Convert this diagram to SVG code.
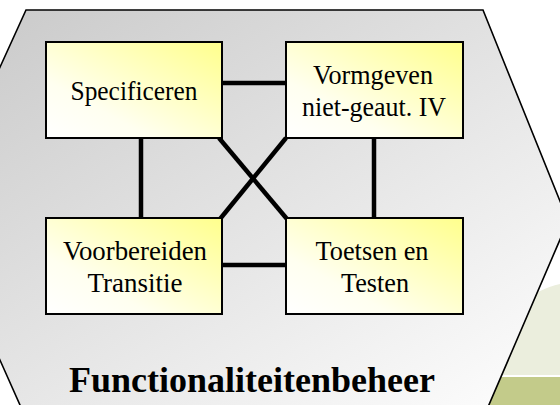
<svg xmlns="http://www.w3.org/2000/svg" width="560" height="405" viewBox="0 0 560 405">
<defs>
<linearGradient id="hexg" x1="0" y1="0" x2="1" y2="1">
<stop offset="0" stop-color="#c8c8c8"/>
<stop offset="1" stop-color="#ffffff"/>
</linearGradient>
<linearGradient id="boxg" x1="0" y1="1" x2="1" y2="0">
<stop offset="0" stop-color="#ffffff"/>
<stop offset="0.3" stop-color="#fffff0"/>
<stop offset="1" stop-color="#ffff8c"/>
</linearGradient>
<style>
.box{fill:url(#boxg);stroke:#000;stroke-width:2}
.lbl{font-family:"Liberation Serif","Times New Roman",serif;font-size:28px;fill:#000;text-anchor:middle}
.con{stroke:#000;stroke-width:4.5;fill:none}
.title{font-family:"Liberation Serif","Times New Roman",serif;font-size:36px;font-weight:bold;fill:#000;text-anchor:middle}
</style>
</defs>
<rect width="560" height="405" fill="#fff"/>
<g id="background-green">
<path d="M440,310 L538,292 Q550,286 560,284 L560,375 L440,375 Z" fill="#ebeedd"/>
<rect x="440" y="377" width="120" height="28" fill="#c3cb8a"/>
</g>
<g id="hexagon">
<polygon points="26,10 483,10 568,221 485,414 24,414 -66,212" fill="url(#hexg)" stroke="#000" stroke-width="1.6"/>
</g>
<g id="connectors">
<line class="con" x1="222" y1="83" x2="286" y2="83"/>
<line class="con" x1="222" y1="265" x2="286" y2="265"/>
<line class="con" x1="141" y1="138" x2="141" y2="218"/>
<line class="con" x1="374" y1="138" x2="374" y2="218"/>
<line class="con" x1="219" y1="138" x2="287" y2="219"/>
<line class="con" x1="286" y1="138" x2="220" y2="219"/>
</g>
<g id="node-specificeren">
<rect class="box" x="46" y="42" width="176" height="96"/>
<text class="lbl" x="134" y="100" textLength="127" lengthAdjust="spacingAndGlyphs">Specificeren</text>
</g>
<g id="node-vormgeven">
<rect class="box" x="286" y="42" width="177" height="96"/>
<text class="lbl" x="373" y="84" textLength="120" lengthAdjust="spacingAndGlyphs">Vormgeven</text>
<text class="lbl" x="374" y="116" textLength="144" lengthAdjust="spacingAndGlyphs">niet-geaut. IV</text>
</g>
<g id="node-voorbereiden">
<rect class="box" x="46" y="218" width="176" height="96"/>
<text class="lbl" x="135" y="260" textLength="144" lengthAdjust="spacingAndGlyphs">Voorbereiden</text>
<text class="lbl" x="135" y="292" textLength="95" lengthAdjust="spacingAndGlyphs">Transitie</text>
</g>
<g id="node-toetsen">
<rect class="box" x="286" y="218" width="177" height="96"/>
<text class="lbl" x="372" y="260" textLength="113" lengthAdjust="spacingAndGlyphs">Toetsen en</text>
<text class="lbl" x="375" y="292" textLength="68" lengthAdjust="spacingAndGlyphs">Testen</text>
</g>
<text class="title" x="252" y="392">Functionaliteitenbeheer</text>
</svg>
